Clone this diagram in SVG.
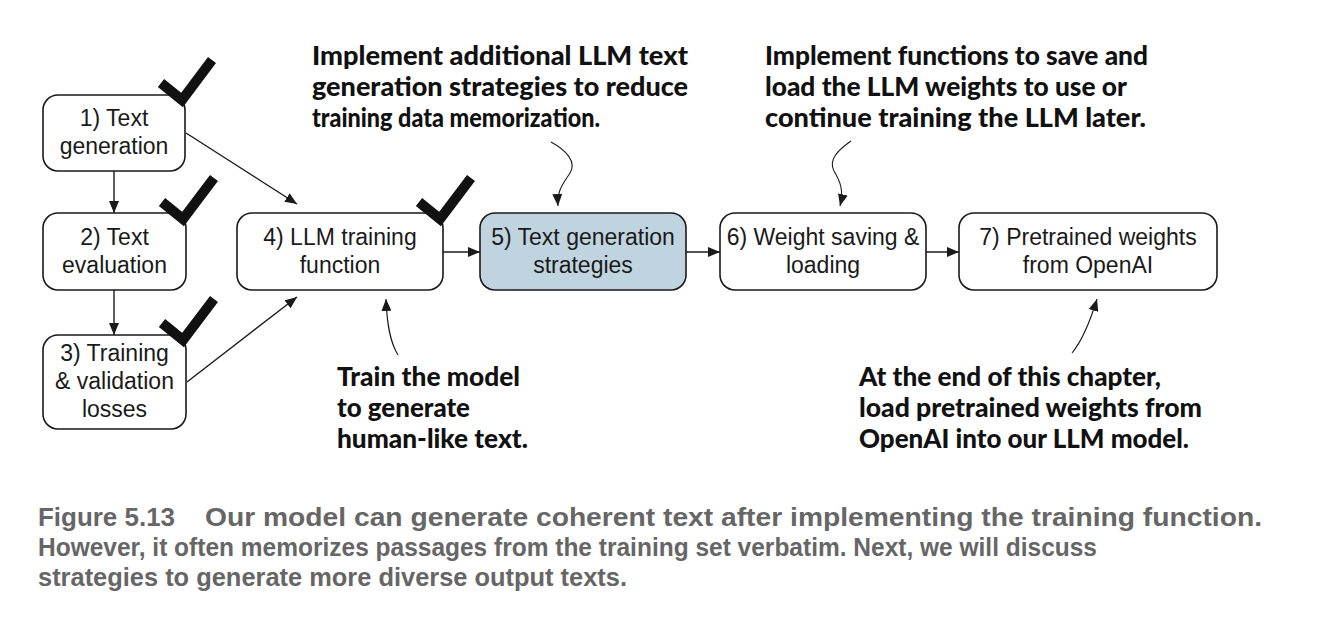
<svg xmlns="http://www.w3.org/2000/svg" width="1336" height="624" viewBox="0 0 1336 624">
<defs>
<style>
.box{fill:#ffffff;stroke:#1a1a1a;stroke-width:1.6}
.hl{fill:#c0d4df}
.lbl{font-family:"Liberation Sans",Arial,sans-serif;font-size:23px;fill:#1a1a1a;text-anchor:middle}
.ann{font-family:Lato,"Open Sans",sans-serif;font-weight:900;font-size:27px;fill:#111}
.cap{font-family:"Liberation Sans",Arial,sans-serif;font-weight:bold;font-size:25px;fill:#666666}
.con{fill:none;stroke:#1a1a1a;stroke-width:1.4}
.cur{fill:none;stroke:#1a1a1a;stroke-width:1.1}
.chk{fill:none;stroke:#111;stroke-width:10;stroke-linejoin:miter;stroke-miterlimit:10}
</style>
<marker id="ah" viewBox="0 0 12 10" refX="12" refY="5" markerWidth="12" markerHeight="10" markerUnits="userSpaceOnUse" orient="auto">
<path d="M0,0 L12,5 L0,10 Z" fill="#1a1a1a"/>
</marker>
</defs>
<rect width="1336" height="624" fill="#ffffff"/>

<g id="connectors">
<line class="con" x1="114" y1="171" x2="114" y2="213" marker-end="url(#ah)"/>
<line class="con" x1="114" y1="290" x2="114" y2="335" marker-end="url(#ah)"/>
<line class="con" x1="186" y1="133" x2="297" y2="204" marker-end="url(#ah)"/>
<line class="con" x1="187" y1="382" x2="297" y2="297" marker-end="url(#ah)"/>
<line class="con" x1="443" y1="252" x2="480" y2="252" marker-end="url(#ah)"/>
<line class="con" x1="686" y1="252" x2="720" y2="252" marker-end="url(#ah)"/>
<line class="con" x1="926" y1="252" x2="959" y2="252" marker-end="url(#ah)"/>
<path class="cur" d="M551,142 C566,150 577,162 570,173 C563,184 557,190 558,206" marker-end="url(#ah)"/>
<path class="cur" d="M851,141 C838,150 828,160 834,171 C840,181 844,190 840,206" marker-end="url(#ah)"/>
<path class="cur" d="M398,355 C390,342 387,325 386,299" marker-end="url(#ah)"/>
<path class="cur" d="M1072,353 C1082,341 1089,325 1097,299" marker-end="url(#ah)"/>
</g>

<g id="node1">
<rect class="box" x="43" y="95" width="142" height="76" rx="15"/>
<text class="lbl" x="114" y="126">1) Text</text>
<text class="lbl" x="114" y="154">generation</text>
</g>
<g id="node2">
<rect class="box" x="43" y="213" width="143" height="77" rx="15"/>
<text class="lbl" x="114.5" y="245">2) Text</text>
<text class="lbl" x="114.5" y="273">evaluation</text>
</g>
<g id="node3">
<rect class="box" x="43" y="335" width="143" height="94" rx="15"/>
<text class="lbl" x="114.5" y="361">3) Training</text>
<text class="lbl" x="114.5" y="389">&amp; validation</text>
<text class="lbl" x="114.5" y="417">losses</text>
</g>
<g id="node4">
<rect class="box" x="237" y="213" width="206" height="77" rx="15"/>
<text class="lbl" x="340" y="245">4) LLM training</text>
<text class="lbl" x="340" y="273">function</text>
</g>
<g id="node5">
<rect class="box hl" x="480" y="213" width="206" height="77" rx="15"/>
<text class="lbl" x="583" y="245">5) Text generation</text>
<text class="lbl" x="583" y="273">strategies</text>
</g>
<g id="node6">
<rect class="box" x="720" y="213" width="206" height="77" rx="15"/>
<text class="lbl" x="823" y="245">6) Weight saving &amp;</text>
<text class="lbl" x="823" y="273">loading</text>
</g>
<g id="node7">
<rect class="box" x="959" y="213" width="258" height="77" rx="15"/>
<text class="lbl" x="1088" y="245">7) Pretrained weights</text>
<text class="lbl" x="1088" y="273">from OpenAI</text>
</g>

<g id="checkmarks">
<path class="chk" d="M161,83 L182,100 L212,60"/>
<path class="chk" d="M162,202 L183,219 L214,178"/>
<path class="chk" d="M162,323 L183,340 L214,299"/>
<path class="chk" d="M419,202 L440,219 L471,178"/>
</g>

<g id="annotations">
<text class="ann" x="312" y="65" textLength="376" lengthAdjust="spacingAndGlyphs">Implement additional LLM text</text>
<text class="ann" x="312" y="96" textLength="376" lengthAdjust="spacingAndGlyphs">generation strategies to reduce</text>
<text class="ann" x="312" y="127" textLength="288" lengthAdjust="spacingAndGlyphs">training data memorization.</text>

<text class="ann" x="765" y="65" textLength="383" lengthAdjust="spacingAndGlyphs">Implement functions to save and</text>
<text class="ann" x="765" y="96" textLength="362" lengthAdjust="spacingAndGlyphs">load the LLM weights to use or</text>
<text class="ann" x="765" y="127" textLength="381" lengthAdjust="spacingAndGlyphs">continue training the LLM later.</text>

<text class="ann" x="337" y="386" textLength="183" lengthAdjust="spacingAndGlyphs">Train the model</text>
<text class="ann" x="337" y="417" textLength="133" lengthAdjust="spacingAndGlyphs">to generate</text>
<text class="ann" x="337" y="448" textLength="191" lengthAdjust="spacingAndGlyphs">human-like text.</text>

<text class="ann" x="859" y="386" textLength="302" lengthAdjust="spacingAndGlyphs">At the end of this chapter,</text>
<text class="ann" x="859" y="417" textLength="343" lengthAdjust="spacingAndGlyphs">load pretrained weights from</text>
<text class="ann" x="859" y="448" textLength="330" lengthAdjust="spacingAndGlyphs">OpenAI into our LLM model.</text>
</g>

<g id="caption">
<text class="cap" x="38" y="526" textLength="137" lengthAdjust="spacingAndGlyphs">Figure 5.13</text>
<text class="cap" x="205" y="526" textLength="1057" lengthAdjust="spacingAndGlyphs">Our model can generate coherent text after implementing the training function.</text>
<text class="cap" x="38" y="556" textLength="1059" lengthAdjust="spacingAndGlyphs">However, it often memorizes passages from the training set verbatim. Next, we will discuss</text>
<text class="cap" x="38" y="586" textLength="589" lengthAdjust="spacingAndGlyphs">strategies to generate more diverse output texts.</text>
</g>
</svg>
